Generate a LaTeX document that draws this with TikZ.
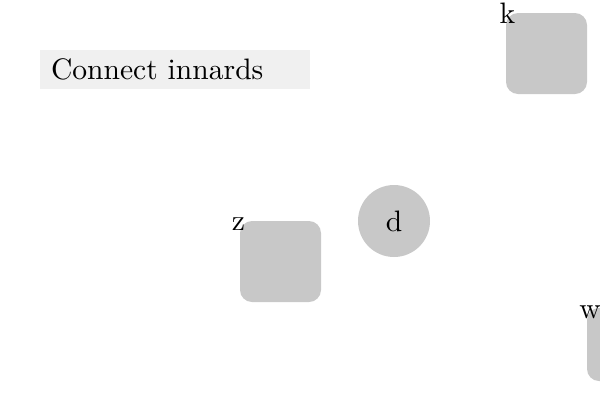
\documentclass[tikz,border=0pt]{standalone}
\begin{document}
\begin{tikzpicture}[x=1pt,y=-1pt,
  every node/.style={inner sep=0pt,outer sep=0pt},
  lbl/.style={anchor=base},
  big/.style={font=\fontsize{10}{12}\selectfont}]
\definecolor{boxgray}{HTML}{C8C8C8}
\definecolor{titlegray}{HTML}{F0F0F0}
\newcommand{\bigt}[1]{\scalebox{2.96}{#1}}
\useasboundingbox (0,0) rectangle (600,400);
\clip (0,0) rectangle (600,400);
% title
\fill[titlegray] (40,50) rectangle (310,89);
\node[big,anchor=base west] (title) at (51,79) {\bigt{Connect innards}};
% k
\fill[boxgray,rounded corners=12pt] (506,13) rectangle (587,94);
\coordinate (k) at (546.5,53.5);
\node[big,lbl] (klabel) at (507.5,23) {\bigt{k}};
% z
\fill[boxgray,rounded corners=12pt] (240,221) rectangle (321,302);
\coordinate (z) at (280.5,261.5);
\node[big,lbl] (zlabel) at (238.5,230) {\bigt{z}};
% d
\node[circle,fill=boxgray,minimum size=72pt,big] (d) at (394,221) {\bigt{d}};
% w
\fill[boxgray,rounded corners=12pt] (587,308) rectangle (668,381);
\node[big,lbl] (wlabel) at (590,318) {\bigt{w}};
\end{tikzpicture}
\end{document}
